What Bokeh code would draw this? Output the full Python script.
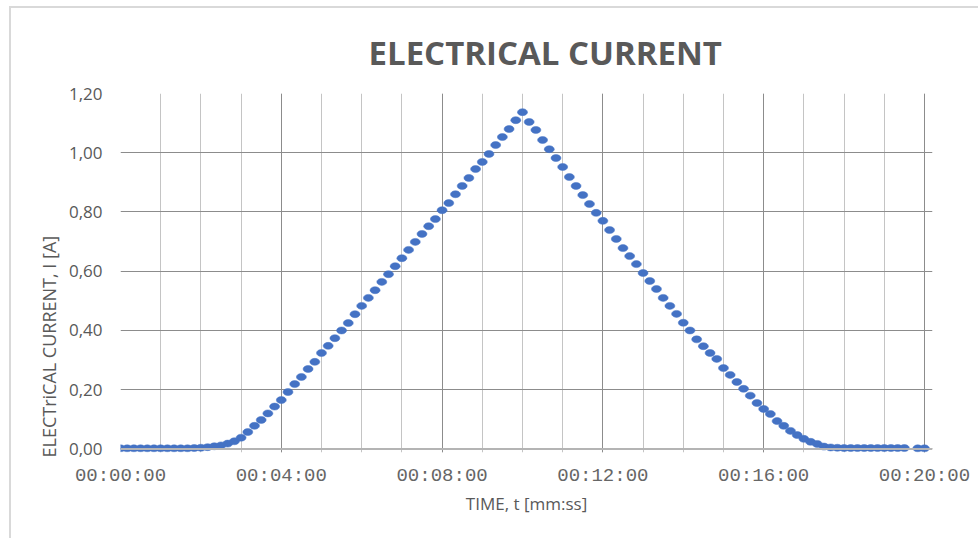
import math
from bokeh.plotting import figure
from bokeh.models import Range1d, FixedTicker, CustomJSTickFormatter, Span, ColumnDataSource, Title
from bokeh.embed import file_html
from bokeh.resources import INLINE

# ---- data (readings every 10 s, current in A) ----
sample_seconds = list(range(0, 1201, 10))
current_a = [
    0.002, 0.002, 0.002, 0.002, 0.002, 0.002, 0.002, 0.002, 0.002, 0.002, 0.002,
    0.003, 0.004, 0.006, 0.009,
    0.012, 0.018, 0.026, 0.038, 0.057, 0.078, 0.098, 0.120, 0.143,
    0.165, 0.192, 0.219, 0.243, 0.270, 0.294, 0.324, 0.348, 0.374, 0.400,
    0.425, 0.455, 0.483, 0.510, 0.536, 0.564, 0.590, 0.617, 0.644, 0.672,
    0.699, 0.726, 0.752, 0.776, 0.806, 0.830, 0.860, 0.888, 0.915, 0.945,
    0.969, 0.996, 1.026, 1.053, 1.080, 1.110,
    1.137,
    1.104, 1.077, 1.043, 1.012, 0.982, 0.952, 0.918, 0.888, 0.857, 0.827,
    0.797, 0.770, 0.739, 0.709, 0.678, 0.651, 0.624, 0.594, 0.567, 0.540,
    0.510, 0.483, 0.456, 0.426, 0.400, 0.370, 0.347, 0.324, 0.304, 0.273,
    0.250, 0.226, 0.203, 0.180, 0.155,
    0.135, 0.118, 0.094, 0.078, 0.061, 0.047, 0.034, 0.024, 0.017, 0.008, 0.005, 0.004,
    0.003, 0.003, 0.003, 0.003, 0.003, 0.003, 0.003, 0.003, 0.003, 0.003,
    float("nan"),
    0.002, 0.002,
]
x_label_minutes = [0, 4, 8, 12, 16, 20]
x_grid_minutes = list(range(0, 21))
y_ticks = [0.0, 0.2, 0.4, 0.6, 0.8, 1.0, 1.2]

title_text = "ELECTRICAL CURRENT"
y_title = "ELECTriCAL CURRENT, I [A]"
x_title = "TIME, t [mm:ss]"

minutes = [s / 60.0 for s in sample_seconds]
src = ColumnDataSource(data=dict(t=minutes, i=current_a))

TXT = "#595959"
BORDER = "#d9d9d9"

p = figure(width=978, height=538, output_backend="svg", toolbar_location=None,
           x_range=Range1d(0, 20.2), y_range=Range1d(-0.012, 1.2),
           min_border_left=120, min_border_right=46, min_border_top=93,
           min_border_bottom=86, title=title_text)
p.outline_line_color = None
p.background_fill_color = "white"
p.border_fill_color = None
p.styles = {
    "background": (f"linear-gradient({BORDER}, {BORDER}) 9px 6px / 2px 100% no-repeat, "
                   f"linear-gradient({BORDER}, {BORDER}) 9px 6px / 100% 2px no-repeat, white"),
}

# chart title
p.title.text_font = "Open Sans"
p.title.text_font_style = "bold"
p.title.text_font_size = "33px"
p.title.text_color = TXT
p.title.align = "left"
p.title.offset = 248
p.title.vertical_align = "top"
p.title.standoff = 34

# x axis
p.xaxis.ticker = FixedTicker(ticks=x_label_minutes, minor_ticks=x_grid_minutes)
p.xaxis.formatter = CustomJSTickFormatter(code="""
const m = Math.round(tick);
return "00:" + (m < 10 ? "0" + m : "" + m) + ":00";
""")
p.xaxis.axis_line_color = None
p.xaxis.major_tick_line_color = None
p.xaxis.minor_tick_line_color = None
p.xaxis.major_tick_out = 0
p.xaxis.major_label_standoff = 8
p.xaxis.major_label_text_font = "Liberation Mono"
p.xaxis.major_label_text_font_size = "19px"
p.xaxis.major_label_text_color = "#666666"
p.xaxis.axis_label = x_title
p.xaxis.axis_label_standoff = 2
p.xaxis.axis_label_text_font = "Open Sans"
p.xaxis.axis_label_text_font_style = "normal"
p.xaxis.axis_label_text_font_size = "17px"
p.xaxis.axis_label_text_color = TXT

# y axis
p.yaxis.ticker = FixedTicker(ticks=y_ticks)
p.yaxis.formatter = CustomJSTickFormatter(code="""
return tick.toFixed(2).replace(".", ",");
""")
p.yaxis.axis_line_color = None
p.yaxis.major_tick_line_color = None
p.yaxis.minor_tick_line_color = None
p.yaxis.major_tick_out = 0
p.yaxis.major_label_standoff = 18
p.yaxis.major_label_text_font = "Open Sans"
p.yaxis.major_label_text_font_size = "17px"
p.yaxis.major_label_text_color = TXT

# y axis title as a side title so that it can sit low, as in the original
p.add_layout(Title(text=y_title, align="left", offset=-5, vertical_align="middle", standoff=8,
                   text_font="Open Sans", text_font_style="normal", text_font_size="18px",
                   text_color=TXT), "left")

# grids
p.xgrid.ticker = FixedTicker(ticks=x_label_minutes, minor_ticks=x_grid_minutes)
p.xgrid.grid_line_color = "#8c8c8c"
p.xgrid.grid_line_width = 1
p.xgrid.minor_grid_line_color = "#c4c4c4"
p.xgrid.minor_grid_line_width = 1
p.ygrid.ticker = FixedTicker(ticks=y_ticks)
p.ygrid.grid_line_color = "#8c8c8c"
p.ygrid.grid_line_width = 1

p.add_layout(Span(location=0, dimension="width", line_color="#b4b4b4", line_width=2))

p.ellipse(x="t", y="i", width=10, height=7, width_units="screen", height_units="screen",
          source=src, fill_color="#4472C4", line_color="#4472C4", line_width=0.5)

open("out.html", "w").write(file_html(p, INLINE))
